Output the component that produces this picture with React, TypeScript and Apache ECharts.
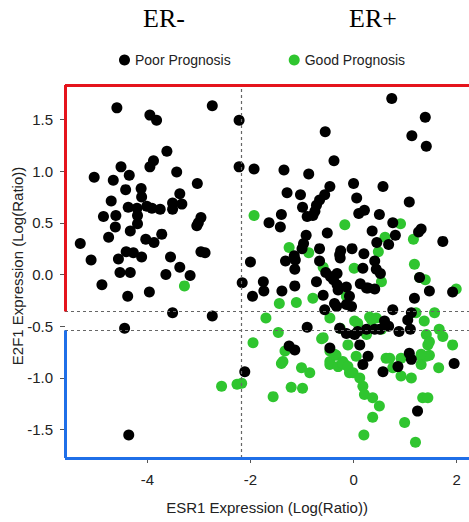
import React, { useEffect, useRef } from "react";
import * as echarts from "echarts";

// ESR1 (x) vs E2F1 (y) expression, log ratio
const poorPrognosis: [number, number][] = [
  // ER- region
  [-4.59, 1.61], [-3.95, 1.54], [-3.82, 1.49], [-2.74, 1.63], [-2.22, 1.49], [-3.62, 1.19],
  [-3.88, 1.10], [-3.95, 1.04], [-4.51, 1.04], [-5.03, 0.94], [-4.66, 0.91], [-4.35, 0.96],
  [-3.43, 0.99], [-2.22, 1.04], [-4.42, 0.82], [-4.12, 0.83], [-3.03, 0.88], [-4.70, 0.71],
  [-4.11, 0.75], [-3.37, 0.78], [-3.51, 0.69], [-3.33, 0.68], [-4.37, 0.65], [-4.20, 0.64],
  [-4.01, 0.66], [-3.91, 0.64], [-3.75, 0.63], [-3.51, 0.63], [-4.85, 0.56], [-4.61, 0.57],
  [-4.19, 0.57], [-2.96, 0.55], [-3.01, 0.50], [-3.04, 0.47], [-4.19, 0.49], [-4.62, 0.46],
  [-4.33, 0.42], [-3.72, 0.39], [-4.75, 0.36], [-4.03, 0.34], [-3.87, 0.31], [-5.30, 0.30],
  [-5.09, 0.14], [-4.56, 0.15], [-4.41, 0.22], [-4.27, 0.21], [-4.11, 0.17], [-3.55, 0.17],
  [-2.96, 0.22], [-2.88, 0.21], [-4.53, 0.02], [-4.33, 0.02], [-3.64, 0.00], [-3.37, 0.07],
  [-3.17, -0.01], [-4.88, -0.10], [-4.38, -0.21], [-3.96, -0.17], [-3.51, -0.37], [-2.74, -0.40],
  [-4.44, -0.52], [-4.36, -1.55],
  // ER+ region
  [0.74, 1.70], [1.39, 1.52], [1.13, 1.34], [1.41, 1.24], [-0.55, 1.38], [-0.38, 1.10],
  [-1.93, 1.02], [-1.35, 1.01], [-0.87, 0.97], [-0.46, 0.85], [0.00, 0.88], [0.57, 0.85],
  [-1.29, 0.79], [-1.03, 0.77], [-0.56, 0.77], [-0.66, 0.72], [-0.72, 0.67], [-0.99, 0.65],
  [0.06, 0.74], [1.08, 0.70], [-0.75, 0.61], [-0.90, 0.56], [-0.79, 0.57], [0.10, 0.59],
  [0.21, 0.62], [0.50, 0.58], [-1.64, 0.50], [-1.40, 0.58], [-1.42, 0.46], [0.76, 0.50],
  [-0.51, 0.40], [0.36, 0.42], [1.31, 0.44], [1.26, 0.41], [0.81, 0.38], [1.73, 0.32],
  [-0.92, 0.38], [-0.97, 0.30], [0.45, 0.31], [0.68, 0.29], [-1.00, 0.25], [-0.66, 0.25],
  [-0.25, 0.23], [-0.03, 0.25], [-1.15, 0.18], [-0.27, 0.19], [0.20, 0.20], [-1.32, 0.13],
  [-1.13, 0.14], [-0.66, 0.13], [0.41, 0.13], [-2.00, 0.12], [-1.14, 0.05], [0.18, 0.06],
  [0.44, 0.05], [-0.54, 0.02], [-0.32, 0.01], [0.52, 0.01], [-2.16, -0.08], [-1.75, -0.07],
  [-0.72, -0.07], [-1.14, -0.11], [-0.39, -0.05], [-0.32, -0.10], [-0.14, -0.12], [0.13, -0.09],
  [0.25, -0.13], [1.47, -0.16], [1.92, -0.17], [-1.96, -0.21], [-1.74, -0.16], [-1.39, -0.16],
  [1.18, -0.23], [1.28, -0.03], [-0.45, -0.02], [-0.26, 0.16], [-0.30, -0.15], [0.41, -0.14],
  [-0.90, -0.51], [-1.25, -0.69], [-1.14, -0.73], [-0.46, -0.71], [-0.56, -0.34], [-0.59, -0.20],
  [-0.37, -0.28], [-0.14, -0.29], [-0.27, -0.52], [-0.14, -0.57], [0.02, -0.58], [0.28, -0.13],
  [-0.08, -0.21], [-0.04, -0.31], [0.76, -0.34], [1.12, -0.37], [1.05, -0.44], [0.60, -0.45],
  [0.68, -0.50], [0.41, -0.53], [0.88, -0.55], [1.10, -0.53], [0.08, -0.55], [0.12, -0.68],
  [0.28, -0.79], [1.08, -0.76], [1.12, -0.82], [1.95, -0.86], [-2.11, -0.94], [0.18, -0.87],
  [0.57, -0.94], [0.86, -0.89], [1.24, -1.32], [-0.33, -0.31], [0.25, -0.53], [0.51, -0.53],
];

const goodPrognosis: [number, number][] = [
  [-3.28, -0.11], [-2.56, -1.08], [-2.26, -1.06],
  [-1.93, 0.57], [-0.17, 0.48], [0.91, 0.49], [0.61, 0.36], [1.16, 0.34], [-1.25, 0.26],
  [-0.87, 0.21], [0.48, 0.22], [1.18, 0.10], [-0.59, 0.07], [0.01, 0.06], [1.28, -0.03],
  [1.39, -0.05], [0.54, -0.07], [1.99, -0.14],
  [-1.44, -0.28], [-1.11, -0.27], [-0.79, -0.23], [-1.70, -0.42], [-1.46, -0.56], [-1.95, -0.66],
  [-1.33, -0.74], [-0.59, -0.61], [-0.62, -0.62], [-0.34, -0.78], [-1.37, -0.84], [-0.11, -0.68],
  [-0.46, -0.42], [-0.14, -0.21], [0.02, -0.45], [0.05, -0.79], [-0.46, -0.84], [-0.21, -0.84],
  [0.31, -0.41], [0.44, -0.42], [0.08, -0.47], [1.21, -0.37], [1.57, -0.37], [1.37, -0.45],
  [0.54, -0.53], [1.66, -0.53], [0.25, -0.58], [1.41, -0.58], [1.73, -0.60], [1.44, -0.68],
  [1.92, -0.68], [0.63, -0.81], [1.31, -0.79], [1.47, -0.78], [0.92, -0.81],
  [0.35, -0.44], [-0.26, -0.52],
  [-2.17, -1.05], [-1.40, -0.86], [-1.01, -0.90], [-0.85, -0.95], [-1.21, -1.09], [-0.99, -1.10],
  [-1.56, -1.18], [-0.46, -0.87], [-0.30, -0.89], [-0.17, -0.87], [-0.08, -0.95], [-0.37, -0.77],
  [-0.46, -0.74], [-0.21, -0.86], [-0.11, -0.89],
  [-0.01, -0.95], [0.12, -1.00], [0.18, -1.08], [0.21, -1.16], [0.37, -1.19], [0.50, -1.27],
  [0.37, -1.38], [0.20, -1.55], [0.99, -1.43], [1.20, -1.62], [1.34, -1.19], [1.44, -1.19],
  [1.65, -0.90], [0.70, -0.81], [0.76, -0.90], [0.92, -0.98], [1.12, -1.00], [1.31, -0.87],
  [1.41, -0.79], [1.47, -0.65], [1.31, -0.77],
];

const seriesNames = ["Poor Prognosis", "Good Prognosis"];
const groupTitles = ["ER-", "ER+"];
const xTickValues = [-4, -2, 0, 2];
const yTickValues = [-1.5, -1.0, -0.5, 0.0, 0.5, 1.0, 1.5];
const xRange: [number, number] = [-5.596, 2.238];
const yRange: [number, number] = [-1.773, 1.831];
const esr1Cutoff = -2.17;
const e2f1Upper = -0.357;
const e2f1Lower = -0.54;
const xAxisName = "ESR1 Expression (Log(Ratio))";
const yAxisName = "E2F1 Expression (Log(Ratio))";

const SANS = "Arial, 'Liberation Sans', Helvetica, sans-serif";
const SERIF = "'Times New Roman', 'Liberation Serif', serif";
const RED = "#e5141c";
const BLUE = "#1f6fe8";
const GREEN = "#2fc52f";

export default function App() {
  const ref = useRef<HTMLDivElement>(null);

  useEffect(() => {
    if (!ref.current) return;
    const chart = echarts.init(ref.current, null, { renderer: "svg" });
    const [x0, x1] = xRange;
    const [y0, y1] = yRange;
    const solid = (color: string) => ({ color, width: 3, type: "solid" as const });
    const dashed = { color: "#666", width: 1.2, type: [3, 3] as any };

    chart.setOption({
      animation: false,
      backgroundColor: "#fff",
      grid: { left: 65, right: 0, top: 85, bottom: 64, containLabel: false },
      legend: {
        data: seriesNames,
        left: 114,
        top: 48,
        icon: "circle",
        itemWidth: 11,
        itemHeight: 11,
        itemGap: 58,
        textStyle: { fontFamily: SANS, fontSize: 14, color: "#222" },
        selectedMode: false,
      },
      graphic: [
        {
          type: "text",
          x: 164,
          y: 18,
          style: { text: groupTitles[0], font: `26px ${SERIF}`, fill: "#000", align: "center", verticalAlign: "middle" },
        },
        {
          type: "text",
          x: 373,
          y: 18,
          style: { text: groupTitles[1], font: `26px ${SERIF}`, fill: "#000", align: "center", verticalAlign: "middle" },
        },
        {
          type: "text",
          x: 17,
          y: 266,
          rotation: Math.PI / 2,
          style: { text: yAxisName, font: `15px ${SANS}`, fill: "#222", align: "center", verticalAlign: "middle" },
        },
      ],
      xAxis: {
        type: "value",
        min: x0,
        max: x1,
        position: "bottom",
        name: xAxisName,
        nameLocation: "middle",
        nameGap: 42,
        nameTextStyle: { fontFamily: SANS, fontSize: 15, color: "#222" },
        axisLine: { show: false, onZero: false },
        axisTick: { show: true, length: 5, customValues: xTickValues, lineStyle: { color: "#555" } },
        axisLabel: {
          customValues: xTickValues,
          margin: 14,
          fontFamily: SANS,
          fontSize: 15,
          color: "#222",
          formatter: (v: number) => String(v),
        },
        splitLine: { show: false },
      },
      yAxis: {
        type: "value",
        min: y0,
        max: y1,
        position: "left",
        axisLine: { show: false, onZero: false },
        axisTick: { show: true, length: 5, customValues: yTickValues, lineStyle: { color: "#555" } },
        axisLabel: {
          customValues: yTickValues,
          margin: 12,
          fontFamily: SANS,
          fontSize: 15,
          color: "#222",
          formatter: (v: number) => v.toFixed(1),
        },
        splitLine: { show: false },
      },
      series: [
        {
          name: seriesNames[0],
          type: "scatter",
          data: poorPrognosis,
          symbol: "circle",
          symbolSize: 11,
          itemStyle: { color: "#000", opacity: 1 },
          z: 3,
          silent: true,
        },
        {
          name: seriesNames[1],
          type: "scatter",
          data: goodPrognosis,
          symbol: "circle",
          symbolSize: 11,
          itemStyle: { color: GREEN, opacity: 1 },
          z: 2,
          silent: true,
          markLine: {
            silent: true,
            symbol: ["none", "none"],
            label: { show: false },
            emphasis: { disabled: true },
            data: [
              [{ coord: [esr1Cutoff, y0], lineStyle: dashed }, { coord: [esr1Cutoff, y1] }],
              [{ coord: [x0, e2f1Upper], lineStyle: dashed }, { coord: [x1, e2f1Upper] }],
              [{ coord: [x0, e2f1Lower], lineStyle: dashed }, { coord: [x1, e2f1Lower] }],
              [{ coord: [x0, y1], lineStyle: solid(RED) }, { coord: [x1, y1] }],
              [{ coord: [x0, y1], lineStyle: solid(RED) }, { coord: [x0, e2f1Upper] }],
              [{ coord: [x0, e2f1Lower], lineStyle: solid(BLUE) }, { coord: [x0, y0] }],
              [{ coord: [x0, y0], lineStyle: solid(BLUE) }, { coord: [x1, y0] }],
            ],
          },
        },
      ],
    });
    return () => chart.dispose();
  }, []);

  return (
    <div
      ref={ref}
      style={{ position: "absolute", left: 0, top: 0, width: 469, height: 522, background: "#fff" }}
    />
  );
}
